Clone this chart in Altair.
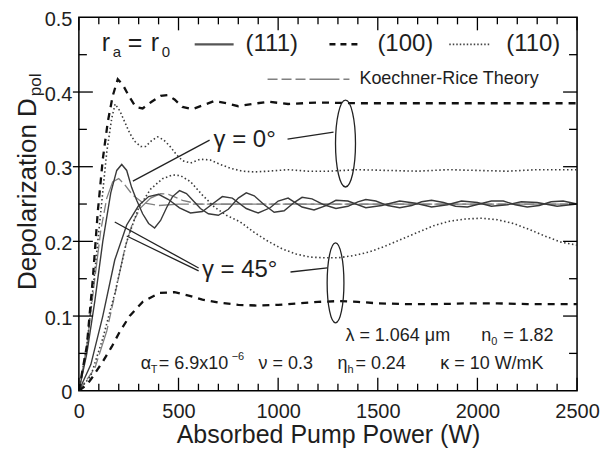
import altair as alt
import pandas as pd

# ---------------- data ----------------
# (111) rod, gamma = 0 deg (solid)
P_111_G0 = [0, 40, 80, 120, 160, 190, 215, 240, 265, 290, 320, 350, 380, 410, 440, 470, 505, 540, 575, 610,
            650, 700, 750, 800, 840, 880, 930, 980, 1030, 1080, 1120, 1170, 1230, 1290, 1350, 1400, 1440, 1490,
            1550, 1610, 1670, 1720, 1770, 1830, 1890, 1950, 2010, 2070, 2130, 2190, 2250, 2310, 2370, 2430, 2500]
D_111_G0 = [0, 0.05, 0.12, 0.2, 0.265, 0.295, 0.303, 0.295, 0.272, 0.255, 0.237, 0.224, 0.218, 0.228, 0.245,
            0.26, 0.268, 0.264, 0.254, 0.244, 0.237, 0.235, 0.243, 0.258, 0.265, 0.261, 0.249, 0.239, 0.241,
            0.252, 0.259, 0.257, 0.249, 0.244, 0.247, 0.253, 0.256, 0.254, 0.248, 0.245, 0.248, 0.253, 0.255,
            0.252, 0.247, 0.246, 0.25, 0.254, 0.254, 0.249, 0.246, 0.248, 0.253, 0.254, 0.25]
# (111) rod, gamma = 45 deg (solid)
P_111_G45 = [0, 60, 120, 180, 240, 300, 350, 400, 450, 505, 560, 620, 680, 720, 770, 840, 900, 960, 1000,
             1050, 1120, 1180, 1240, 1290, 1350, 1440, 1520, 1610, 1690, 1770, 1850, 1920, 2000, 2070, 2150,
             2220, 2300, 2400, 2500]
D_111_G45 = [0, 0.035, 0.1, 0.175, 0.222, 0.248, 0.26, 0.263, 0.256, 0.245, 0.238, 0.24, 0.252, 0.26, 0.258,
             0.244, 0.238, 0.245, 0.254, 0.258, 0.246, 0.242, 0.248, 0.255, 0.254, 0.245, 0.248, 0.254, 0.251,
             0.246, 0.249, 0.254, 0.252, 0.247, 0.249, 0.253, 0.252, 0.247, 0.25]
# (100) rod, gamma = 0 deg (dashed)
P_100_G0 = [0, 40, 70, 95, 120, 145, 170, 195, 220, 250, 285, 320, 365, 410, 445, 480, 520, 570, 620, 680,
            740, 800, 870, 950, 1050, 1200, 1400, 1600, 1800, 2000, 2200, 2500]
D_100_G0 = [0, 0.06, 0.15, 0.24, 0.31, 0.36, 0.395, 0.417, 0.41, 0.395, 0.38, 0.378, 0.387, 0.395, 0.396,
            0.39, 0.38, 0.377, 0.382, 0.388, 0.385, 0.381, 0.384, 0.387, 0.384, 0.386, 0.385, 0.385, 0.385,
            0.385, 0.385, 0.385]
# (100) rod, gamma = 45 deg (dashed)
P_100_G45 = [0, 40, 65, 120, 165, 205, 255, 320, 405, 480, 556, 620, 700, 800, 900, 1000, 1100, 1200, 1300,
             1400, 1500, 1650, 1800, 1950, 2100, 2250, 2400, 2500]
D_100_G45 = [0, 0.008, 0.017, 0.039, 0.059, 0.079, 0.1, 0.119, 0.131, 0.132, 0.127, 0.122, 0.118, 0.115,
             0.114, 0.115, 0.117, 0.119, 0.12, 0.119, 0.117, 0.116, 0.116, 0.117, 0.117, 0.116, 0.116, 0.116]
# (110) rod, gamma = 0 deg (dotted)
P_110_G0 = [0, 40, 80, 110, 140, 165, 182, 205, 230, 255, 280, 310, 335, 365, 395, 425, 455, 490, 520, 560,
            610, 660, 710, 760, 820, 880, 950, 1050, 1150, 1250, 1400, 1550, 1700, 1850, 2000, 2150, 2300, 2500]
D_110_G0 = [0, 0.06, 0.16, 0.24, 0.32, 0.365, 0.384, 0.375, 0.36, 0.345, 0.334, 0.327, 0.327, 0.335, 0.34,
            0.336, 0.328, 0.316, 0.308, 0.305, 0.31, 0.309, 0.303, 0.298, 0.294, 0.293, 0.294, 0.296, 0.294,
            0.294, 0.296, 0.295, 0.294, 0.296, 0.295, 0.294, 0.296, 0.296]
# (110) rod, gamma = 45 deg (dotted)
P_110_G45 = [0, 60, 120, 180, 240, 300, 360, 420, 470, 510, 560, 620, 680, 740, 810, 880, 950, 1020, 1090,
             1160, 1230, 1300, 1380, 1460, 1540, 1620, 1700, 1780, 1860, 1940, 2020, 2100, 2180, 2260, 2340,
             2420, 2500]
D_110_G45 = [0, 0.02, 0.07, 0.13, 0.2, 0.245, 0.27, 0.284, 0.289, 0.288, 0.28, 0.262, 0.246, 0.235, 0.226,
             0.212, 0.2, 0.19, 0.183, 0.179, 0.178, 0.178, 0.181, 0.186, 0.194, 0.203, 0.212, 0.221, 0.227,
             0.23, 0.231, 0.229, 0.224, 0.216, 0.207, 0.199, 0.195]
# Koechner-Rice theory
P_KR_G0 = [0, 40, 80, 110, 140, 170, 200, 230, 270, 320, 400, 500, 700, 1000, 1500, 2000, 2500]
D_KR_G0 = [0, 0.06, 0.15, 0.215, 0.258, 0.28, 0.284, 0.276, 0.262, 0.252, 0.248, 0.25, 0.25, 0.25, 0.25,
           0.25, 0.25]
P_KR_G45 = [0, 80, 140, 190, 230, 270, 310, 360, 410, 450, 520, 600, 800, 1200, 1600, 2000, 2500]
D_KR_G45 = [0, 0.03, 0.08, 0.14, 0.19, 0.225, 0.245, 0.258, 0.264, 0.263, 0.255, 0.25, 0.25, 0.25, 0.25,
            0.25, 0.25]

X_MAJOR = [0, 500, 1000, 1500, 2000, 2500]
X_MINOR = [100, 200, 300, 400, 600, 700, 800, 900, 1100, 1200, 1300, 1400, 1600, 1700, 1800, 1900,
           2100, 2200, 2300, 2400]
Y_LABELS = [0, 0.1, 0.2, 0.3, 0.4, 0.5]
Y_MAJOR = [0.1, 0.2, 0.3, 0.4]
Y_MINOR = [0.05, 0.15, 0.25, 0.35, 0.45]

# ---------------- styling ----------------
FONT = "Liberation Sans"
TXT = "#1e1e1e"
W, H = 499, 374

xs = alt.Scale(domain=[0, 2500], nice=False, zero=True)
ys = alt.Scale(domain=[0, 0.5], nice=False, zero=True)

xaxis = alt.Axis(values=X_MAJOR, format="d", title="Absorbed Pump Power (W)", labelFontSize=20,
                 labelFont=FONT, labelColor=TXT, titleFont=FONT, titleFontSize=25,
                 titleFontWeight="normal", titleColor=TXT, titlePadding=1, labelPadding=11,
                 ticks=False, tickSize=0, domain=False, grid=False, labelFlush=False)
yaxis = alt.Axis(values=Y_LABELS, format="~g", title=None, labelFontSize=20, labelFont=FONT,
                 labelColor=TXT, labelPadding=7, labelOffset=2, ticks=False, tickSize=0, domain=False,
                 grid=False, labelFlush=False)

X = lambda f="P": alt.X(f"{f}:Q", scale=xs, axis=xaxis)
Y = lambda f="D": alt.Y(f"{f}:Q", scale=ys, axis=yaxis)


def curve(P, D, color, width, dash=None):
    df = pd.DataFrame({"P": P, "D": D})
    kw = dict(color=color, strokeWidth=width, clip=True)
    if dash:
        kw["strokeDash"] = dash
    return alt.Chart(df).mark_line(**kw).encode(x=X(), y=Y())


layers = []
KR_DASH = [10, 4, 10, 4, 10, 4, 30, 4]
DASH100 = [7, 6]
DOT110 = [1.5, 2.5]
layers.append(curve(P_KR_G0, D_KR_G0, "#808080", 1.3, KR_DASH))
layers.append(curve(P_KR_G45, D_KR_G45, "#808080", 1.3, KR_DASH))
layers.append(curve(P_111_G0, D_111_G0, "#3a3a3a", 1.4))
layers.append(curve(P_111_G45, D_111_G45, "#3a3a3a", 1.4))
layers.append(curve(P_110_G0, D_110_G0, "#3a3a3a", 1.6, DOT110))
layers.append(curve(P_110_G45, D_110_G45, "#3a3a3a", 1.6, DOT110))
layers.append(curve(P_100_G0, D_100_G0, "#111111", 2.3, DASH100))
layers.append(curve(P_100_G45, D_100_G45, "#111111", 2.3, DASH100))

# ---------------- inward ticks ----------------
def xticks(vals, y1, y2):
    return alt.Chart(pd.DataFrame({"P": vals})).mark_rule(color="black", strokeWidth=1.3).encode(
        x=X(), y=alt.value(y1), y2=alt.value(y2))


def yticks(vals, x1, x2):
    return alt.Chart(pd.DataFrame({"D": vals})).mark_rule(color="black", strokeWidth=1.3).encode(
        y=Y(), x=alt.value(x1), x2=alt.value(x2))


layers += [xticks(X_MAJOR, H, H - 13), xticks(X_MINOR, H, H - 7),
           xticks(X_MAJOR, 0, 13), xticks(X_MINOR, 0, 7),
           yticks(Y_MAJOR, -6, 14), yticks(Y_MINOR, 0, 8),
           yticks(Y_MAJOR, W, W - 14), yticks(Y_MINOR, W, W - 8)]

# ---------------- annotations in data space ----------------
ann_lines = pd.DataFrame({
    "P": [656, 1047, 601, 601, 1062],
    "D": [0.3356, 0.3369, 0.1644, 0.1604, 0.159],
    "P2": [271, 1278, 180, 240, 1247],
    "D2": [0.2807, 0.3463, 0.2259, 0.2072, 0.1644],
})
layers.append(alt.Chart(ann_lines).mark_rule(color="#222", strokeWidth=1.3).encode(
    x=X(), y=Y(), x2="P2:Q", y2="D2:Q"))

ann_text = pd.DataFrame({"P": [832, 807], "D": [0.3356, 0.1618], "t": ["γ = 0°", "γ =  45°"]})
layers.append(alt.Chart(ann_text).mark_text(font=FONT, fontSize=24, color=TXT, align="center",
                                              baseline="middle").encode(x=X(), y=Y(), text="t:N"))


def ellipse(P, D, h, ratio):
    r = ratio
    path = f"M0,-1 A{r},1 0 1,1 0,1 A{r},1 0 1,1 0,-1 Z"
    return alt.Chart(pd.DataFrame({"P": [P], "D": [D]})).mark_point(
        shape=path, size=h * h, filled=False, color="#222", strokeWidth=1.3, opacity=1).encode(x=X(), y=Y())


layers.append(ellipse(1338, 0.331, 87, 0.23))
layers.append(ellipse(1288, 0.1444, 80, 0.21))

# ---------------- legend & text in pixel space ----------------
def txt(s, x, y, size, align="left", baseline="alphabetic", angle=0, color=TXT):
    kw = dict(text=s, font=FONT, fontSize=size, color=color, align=align, baseline=baseline)
    if angle:
        kw["angle"] = angle
    return alt.Chart(pd.DataFrame({"a": [0]})).mark_text(**kw).encode(x=alt.value(x), y=alt.value(y))


def sample(x1, x2, y, color, width, dash=None):
    kw = dict(color=color, strokeWidth=width)
    if dash:
        kw["strokeDash"] = dash
    return alt.Chart(pd.DataFrame({"a": [0]})).mark_rule(**kw).encode(
        x=alt.value(x1), x2=alt.value(x2), y=alt.value(y))


layers += [
    txt("r", 23, 34, 25), txt("a", 34, 40, 15), txt("=", 49, 34, 25),
    txt("r", 72, 34, 25), txt("0", 83, 40, 15),
    sample(116, 155, 27, "#555555", 2.2), txt("(111)", 167, 34, 24),
    sample(251, 282, 27, "#111111", 2.5, [6, 5]), txt("(100)", 299, 34, 24),
    sample(371, 413, 27, "#444444", 1.8, [1.5, 2]), txt("(110)", 428, 34, 24),
    sample(189, 271, 62, "#808080", 1.6, KR_DASH), txt("Koechner-Rice Theory", 281, 62, 18, baseline="middle"),
    # parameters
    txt("λ = 1.064  μm", 267, 324, 18), txt("n", 403, 324, 18), txt("0", 413, 328, 11),
    txt("= 1.82", 425, 324, 18),
    txt("α", 62, 352, 18), txt("T", 72, 356, 11), txt("= 6.9x10", 80, 352, 18), txt("−6", 153, 343, 11),
    txt("ν = 0.3", 180, 352, 18), txt("η", 259, 352, 18), txt("h", 269, 356, 11),
    txt("= 0.24", 277, 352, 18), txt("κ = 10 W/mK", 362, 352, 18),
    # y-axis title
    txt("Depolarization D", -51, 81, 26, align="right", baseline="middle", angle=270),
    txt("pol", -43, 79, 17, align="left", baseline="middle", angle=270),
]

chart = alt.layer(*layers).properties(
    width=W, height=H,
    padding={"left": 71, "top": 9, "right": 30, "bottom": 58},
    autosize=alt.AutoSizeParams(type="none"),
    background="white",
).configure_view(stroke="black", strokeWidth=1.5)

chart.save("out.html", embed_options={"renderer": "svg", "actions": False})
